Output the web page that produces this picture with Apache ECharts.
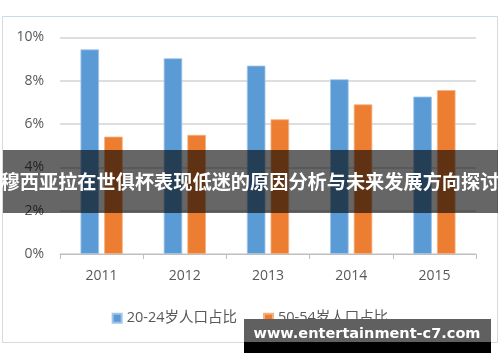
<!DOCTYPE html>
<html><head><meta charset="utf-8">
<script src="https://cdn.jsdelivr.net/npm/echarts@6/dist/echarts.min.js"></script>
<style>html,body{margin:0;padding:0;background:#fff}#c{width:500px;height:362px}</style>
</head><body><div id="c"></div>
<script>
const categories = ['2011', '2012', '2013', '2014', '2015'];
const seriesNames = ['20-24岁人口占比', '50-54岁人口占比'];
const youngShare = [9.45, 9.04, 8.70, 8.07, 7.27];
const olderShare = [5.42, 5.50, 6.22, 6.91, 7.57];
const yTicks = { min: 0, max: 10, interval: 2 };
const bannerTitle = '穆西亚拉在世俱杯表现低迷的原因分析与未来发展方向探讨';
const watermark = 'www.entertainment-c7.com';

const chart = echarts.init(document.getElementById('c'), null, { renderer: 'canvas' });
const font = '"Open Sans", "Noto Sans CJK SC", sans-serif';
chart.setOption({
  animation: false,
  backgroundColor: '#ffffff',
  grid: { left: 60, right: 24, top: 37.5, bottom: 108, containLabel: false },
  legend: {
    data: seriesNames,
    left: 'center', top: 306,
    itemWidth: 9, itemHeight: 9, itemGap: 26,
    icon: 'rect',
    textStyle: { fontFamily: font, fontSize: 14.5, color: '#595959' }
  },
  xAxis: {
    type: 'category', data: categories,
    axisLine: { lineStyle: { color: '#BFBFBF', width: 1 } },
    axisTick: { show: true, length: 5, lineStyle: { color: '#BFBFBF' } },
    axisLabel: { fontFamily: font, fontSize: 14, color: '#595959', margin: 15 }
  },
  yAxis: {
    type: 'value', min: yTicks.min, max: yTicks.max, interval: yTicks.interval,
    axisLine: { show: false }, axisTick: { show: false },
    axisLabel: { formatter: '{value}%', fontFamily: font, fontSize: 14, color: '#595959', margin: 16 },
    splitLine: { lineStyle: { color: '#DEDEDE', width: 2 } }
  },
  series: [
    { name: seriesNames[0], type: 'bar', data: youngShare, barWidth: 18.5, barGap: '28%',
      itemStyle: { color: '#5B9BD5', borderColor: '#9FC5E8', borderWidth: 0.8 } },
    { name: seriesNames[1], type: 'bar', data: olderShare, barWidth: 18.5,
      itemStyle: { color: '#ED7D31', borderColor: '#F5B07F', borderWidth: 0.8 } }
  ],
  graphic: [
    { type: 'rect', z: 0, silent: true, shape: { x: 2.5, y: 16.5, width: 495, height: 326 },
      style: { fill: 'none', stroke: '#D9D9D9', lineWidth: 1 } },
    { type: 'line', z: 1, silent: true, shape: { x1: 2.5, y1: 16.5, x2: 497.5, y2: 16.5 },
      style: { stroke: '#C8DCEA', lineWidth: 1 } },
    { type: 'rect', z: 100, silent: true, shape: { x: 3, y: 150, width: 495, height: 63 },
      style: { fill: 'rgba(0,0,0,0.6)' } },
    { type: 'text', z: 101, silent: true, x: 250, y: 182,
      style: { text: bannerTitle, fill: '#ffffff', font: 'bold 19.2px "Noto Sans CJK SC", sans-serif',
        align: 'center', verticalAlign: 'middle' } },
    { type: 'rect', z: 100, silent: true, shape: { x: 244, y: 319, width: 247, height: 23 },
      style: { fill: '#606060' } },
    { type: 'rect', z: 100, silent: true, shape: { x: 244, y: 342, width: 247, height: 11 },
      style: { fill: '#000000' } },
    { type: 'text', z: 101, silent: true, x: 367, y: 334,
      style: { text: watermark, fill: '#ffffff', font: 'bold 14.5px "DejaVu Sans", sans-serif',
        align: 'center', verticalAlign: 'middle' } }
  ]
});
</script></body></html>
